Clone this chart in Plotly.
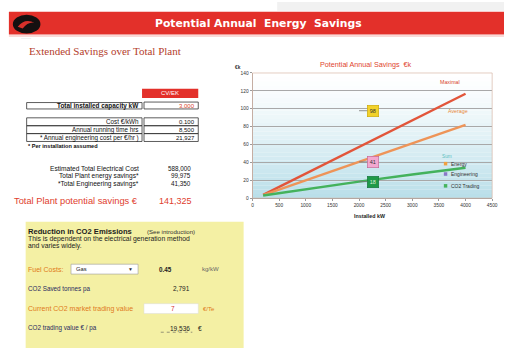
import plotly.graph_objects as go

# ---------------------------------------------------------------- data
installed_kw = [200, 1000, 2000, 3000, 4000]
maximal_savings = [3.6, 27.4, 57.2, 87.0, 116.8]      # €k
average_savings = [3.3, 19.9, 40.6, 61.3, 82.0]       # €k
co2_trading_savings = [3.0, 10.0, 18.5, 26.5, 34.0]   # €k

x_tick_values = [0, 500, 1000, 1500, 2000, 2500, 3000, 3500, 4000, 4500]
y_tick_values = [0, 20, 40, 60, 80, 100, 120, 140]

capacity_label = "Total installed capacity kW"
capacity_value = "3,000"
input_labels = ["Cost €/kWh", "Annual running time hrs", "* Annual engineering cost per €/hr )"]
input_values = ["0.100", "8,500", "21,927"]
summary_labels = ["Estimated Total Electrical Cost", "Total Plant energy savings*", "*Total Engineering savings*"]
summary_values = ["588,000", "99,975", "41,350"]
total_label = "Total Plant potential savings €"
total_value = "141,325"

co2_rows = ["CO2 Saved tonnes pa", "CO2 trading value € / pa"]
co2_values = ["2,791", "19,536"]
fuel_type = "Gas"
fuel_factor = "0.45"
co2_price = "7"

legend_names = ["Energy", "Engineering", "CO2 Trading"]
legend_colors = ["#f0a040", "#8a78c8", "#46b45e"]

# ---------------------------------------------------------------- page helpers
W, H = 510, 351
FONT = "Liberation Sans"


def px(x):
    return x / W


def py(y):
    return 1 - y / H


shapes = []
annotations = []


def rect(x0, y0, x1, y1, fill=None, line=None, lw=0.8, layer="above"):
    shapes.append(dict(type="rect", xref="paper", yref="paper",
                       x0=px(x0), x1=px(x1), y0=py(y1), y1=py(y0),
                       fillcolor=fill or "rgba(0,0,0,0)",
                       line=dict(color=line or "rgba(0,0,0,0)", width=lw if line else 0),
                       layer=layer))


def hline(x0, x1, y, color="#333", lw=0.8, dash="solid"):
    shapes.append(dict(type="line", xref="paper", yref="paper",
                       x0=px(x0), x1=px(x1), y0=py(y), y1=py(y),
                       line=dict(color=color, width=lw, dash=dash)))


def text(x, y, s, size=5.5, color="#222", anchor="left", bold=False, family=FONT):
    if bold:
        s = "<b>" + s + "</b>"
    annotations.append(dict(xref="paper", yref="paper", x=px(x), y=py(y), text=s,
                            showarrow=False, xanchor=anchor, yanchor="middle",
                            borderpad=0, font=dict(size=size, color=color, family=family)))


# ---------------------------------------------------------------- header
rect(280, 0, 510, 9, fill="#f1f1f1", layer="below")
rect(8, 10, 510, 33, fill="#e3302a")
hline(8, 510, 34.5, color="#f3b3ae", lw=1)
shapes.append(dict(type="circle", xref="paper", yref="paper",
                   x0=px(12), x1=px(40), y0=py(32), y1=py(13),
                   fillcolor="#151010", line=dict(width=0)))
shapes.append(dict(type="path", xref="paper", yref="paper",
                   path=f"M {px(17)},{py(25)} Q {px(24)},{py(16)} {px(34)},{py(21)} "
                        f"Q {px(27)},{py(20)} {px(22)},{py(27)} Z",
                   fillcolor="#d8302a", line=dict(width=0)))
text(25, 37.5, "··········", size=3, color="#999", anchor="center")
text(261, 21.5, "Potential Annual  Energy  Savings", size=10.8, color="#ffffff",
     anchor="center", bold=True, family="DejaVu Sans")
text(27, 49.5, "Extended Savings over Total Plant", size=11, color="#b4402c",
     family="Liberation Serif")

# ---------------------------------------------------------------- input table
rect(143, 88, 200, 97.5, fill="#e3302a")
text(171.5, 92.8, "CV/EK", size=6, color="#ffffff", anchor="center")
rect(26, 102, 143, 108.5, line="#333")
rect(145, 101.5, 200, 108.5, line="#333")
text(141, 105.3, capacity_label, size=6.4, color="#111", anchor="right", bold=True)
text(198, 105.3, capacity_value, size=6, color="#d8442c", anchor="right")

row_tops = [117.5, 125.5, 133.5]
for top, lab, val in zip(row_tops, input_labels, input_values):
    rect(26, top, 143, top + 8, line="#333")
    rect(145, top, 200, top + 8, line="#333")
    text(141, top + 4.2, lab, size=6.3, color="#111", anchor="right")
    text(198, top + 4.2, val, size=6, color="#111", anchor="right")
text(26, 146.5, "* Per installation assumed", size=5.6, color="#111", anchor="left", bold=True)

for y, lab, val in zip([168.5, 176.5, 184.5], summary_labels, summary_values):
    text(141, y, lab, size=6.6, color="#111", anchor="right")
    text(194, y, val, size=6.3, color="#111", anchor="right")
text(140, 201.5, total_label, size=9.3, color="#e0402e", anchor="right")
text(195, 201.5, total_value, size=9, color="#e0402e", anchor="right")

# ---------------------------------------------------------------- CO2 panel
rect(25, 223, 246, 351, fill="#f4f0a4", layer="below")
text(26, 232.5, "Reduction in CO2 Emissions", size=7.6, color="#1c1c1c", bold=True)
text(147, 232.5, "(See introduction)", size=6.1, color="#333")
text(26, 240.3, "This is dependent on the electrical generation method", size=6.8, color="#222")
text(26, 247.6, "and varies widely.", size=6.8, color="#222")

text(26, 271, "Fuel Costs:", size=7, color="#e07a20")
rect(71, 266, 139, 276, fill="#ffffff", line="#9a9a9a", lw=0.6)
text(75, 271, fuel_type, size=5.8, color="#222")
text(131, 271, "▼", size=5, color="#333", anchor="center")
text(167, 271, fuel_factor, size=6.3, color="#222", anchor="center", bold=True)
text(212, 271, "kg/kW", size=6, color="#666", anchor="center")

text(26, 291, co2_rows[0], size=6.3, color="#2a2a60")
text(183, 291, co2_values[0], size=6.5, color="#222", anchor="center")

text(26, 311, "Current CO2 market trading value", size=7, color="#e07a20")
rect(145, 306, 200, 316, fill="#ffffff", line="#dddddd", lw=0.5)
text(174, 311, co2_price, size=6.5, color="#d8302a", anchor="center")
text(211, 311, "€/Te", size=6, color="#e07a20", anchor="center")

text(26, 331, co2_rows[1], size=6.3, color="#2a2a60")
text(193, 331, co2_values[1], size=6.5, color="#222", anchor="right")
hline(162, 194, 335, color="#555", lw=0.6, dash="dot")
text(202, 331, "€", size=6.5, color="#222", anchor="center")

# ---------------------------------------------------------------- chart
PLOT_L, PLOT_R, PLOT_T, PLOT_B = 255, 498, 72, 199

# soft white-to-blue wash behind the plot
n_strips = 30
top_rgb = (255, 255, 255)
bot_rgb = (184, 222, 233)
for i in range(n_strips):
    t = (i + 0.5) / n_strips
    w = t ** 1.3
    c = tuple(int(round(a + (b - a) * w)) for a, b in zip(top_rgb, bot_rgb))
    shapes.append(dict(type="rect", xref="x domain", yref="y domain",
                       x0=0, x1=1, y0=1 - (i + 1) / n_strips, y1=1 - i / n_strips,
                       fillcolor=f"rgb{c}", line=dict(width=0), layer="below"))

# outer frame of the plot area
shapes.append(dict(type="rect", xref="x domain", yref="y domain", x0=0, x1=1, y0=0, y1=1,
                   line=dict(color="#d9b8a8", width=0.7), layer="above"))

fig = go.Figure()
fig.add_trace(go.Scatter(x=installed_kw, y=maximal_savings, mode="lines",
                         line=dict(color="#e2553a", width=2.4), showlegend=False,
                         hoverinfo="skip"))
fig.add_trace(go.Scatter(x=installed_kw, y=average_savings, mode="lines",
                         line=dict(color="#ee9458", width=2.4), showlegend=False,
                         hoverinfo="skip"))
fig.add_trace(go.Scatter(x=installed_kw, y=co2_trading_savings, mode="lines",
                         line=dict(color="#44b25c", width=2.4), showlegend=False,
                         hoverinfo="skip"))

# value callouts at 2000 kW
i2k = installed_kw.index(2000)
combined = maximal_savings[i2k] + average_savings[i2k]
callouts = [
    (combined, "#f2d22a", "#c9a400", "#333"),
    (average_savings[i2k], "#f3a8d0", "#c0608e", "#333"),
    (co2_trading_savings[i2k], "#1f9a48", "#14703a", "#d8f0d8"),
]
for val, bg, border, fc in callouts:
    annotations.append(dict(xref="x", yref="y", x=2000, y=val, text=f"{val:.0f}",
                            showarrow=True, arrowhead=0, arrowwidth=0.8, arrowcolor="#777",
                            ax=14, ay=0, bgcolor=bg, bordercolor=border, borderwidth=0.6,
                            borderpad=2.2, font=dict(size=5.5, color=fc, family=FONT)))

# line labels
annotations.append(dict(xref="x", yref="y", x=3700, y=130, text="Maximal", showarrow=False,
                        font=dict(size=5.3, color="#d8442c", family=FONT)))
annotations.append(dict(xref="x", yref="y", x=3850, y=97, text="Average", showarrow=False,
                        font=dict(size=5.3, color="#e8883a", family=FONT)))

# chart title, units, axis title
text(370, 63.5, "Potential Annual Savings  €k", size=7.2, color="#e0452e", anchor="center")
text(240.5, 66, "€k", size=4.8, color="#333", anchor="center", bold=True)
text(374, 217.5, "Installed kW", size=5.3, color="#222", anchor="center", bold=True)

# legend block
text(452, 156.5, "Sum", size=4.8, color="#5cc0c0", anchor="center")
for y, name, col in zip([164, 174.5, 186.5], legend_names, legend_colors):
    shapes.append(dict(type="rect", xref="paper", yref="paper",
                       x0=px(449), x1=px(452.5), y0=py(y + 1.8), y1=py(y - 1.8),
                       fillcolor=col, line=dict(width=0)))
    text(455, y, name, size=5, color="#333")

fig.update_layout(
    width=W, height=H,
    margin=dict(l=0, r=0, t=0, b=0),
    paper_bgcolor="#ffffff",
    plot_bgcolor="rgba(0,0,0,0)",
    showlegend=False,
    shapes=shapes,
    annotations=annotations,
    xaxis=dict(domain=[px(PLOT_L), px(PLOT_R)], range=[0, 4500],
               tickvals=x_tick_values, ticktext=[str(v) for v in x_tick_values],
               tickfont=dict(size=4.8, color="#333", family=FONT),
               showgrid=False, zeroline=False, showline=True, linecolor="#9a9a9a",
               linewidth=0.8, ticks="outside", ticklen=2, tickcolor="#9a9a9a",
               fixedrange=True),
    yaxis=dict(domain=[py(PLOT_B), py(PLOT_T)], range=[0, 140],
               tickvals=y_tick_values, ticktext=[str(v) for v in y_tick_values],
               tickfont=dict(size=4.8, color="#333", family=FONT),
               showgrid=True, gridcolor="#a8a8a8", gridwidth=0.6, zeroline=False,
               showline=True, linecolor="#9a9a9a", linewidth=0.8,
               ticks="outside", ticklen=2, tickcolor="#9a9a9a", fixedrange=True),
)

fig.write_html("out.html")
